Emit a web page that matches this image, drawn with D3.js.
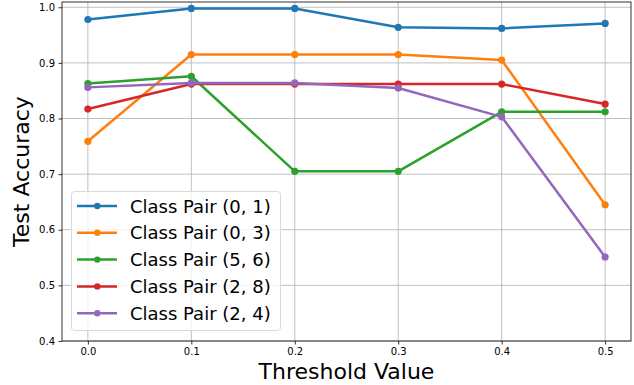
<!DOCTYPE html>
<html><head><meta charset="utf-8">
<script src="https://cdn.jsdelivr.net/npm/d3@7"></script>
<style>body{margin:0;background:#fff}svg{display:block;font-family:"DejaVu Sans",sans-serif}</style>
</head><body><svg id="c" width="634" height="385"></svg>
<script>
const thresholds = [0.0, 0.1, 0.2, 0.3, 0.4, 0.5];
const seriesNames = ["Class Pair (0, 1)", "Class Pair (0, 3)", "Class Pair (5, 6)", "Class Pair (2, 8)", "Class Pair (2, 4)"];
const pair01 = [0.978, 0.998, 0.998, 0.964, 0.962, 0.971];
const pair03 = [0.759, 0.915, 0.915, 0.915, 0.905, 0.645];
const pair56 = [0.863, 0.876, 0.705, 0.705, 0.812, 0.812];
const pair28 = [0.817, 0.862, 0.862, 0.862, 0.862, 0.826];
const pair24 = [0.856, 0.864, 0.864, 0.855, 0.803, 0.551];
const colors = ["#1f77b4", "#ff7f0e", "#2ca02c", "#d62728", "#9467bd"];
const xTicks = [0.0, 0.1, 0.2, 0.3, 0.4, 0.5];
const yTicks = [0.4, 0.5, 0.6, 0.7, 0.8, 0.9, 1.0];
const allSeries = [pair01, pair03, pair56, pair28, pair24];

const svg = d3.select("#c");
const L = 62, R = 631, T = 2, B = 341;
const x = d3.scaleLinear().domain([-0.025, 0.525]).range([L, R]);
const y = d3.scaleLinear().domain([0.4, 1.0095]).range([B, T]);

// grid
const g = svg.append("g");
g.selectAll("line.vx").data(xTicks).join("line")
  .attr("x1", d => x(d)).attr("x2", d => x(d)).attr("y1", T).attr("y2", B)
  .attr("stroke", "#b0b0b0").attr("stroke-width", 0.8);
g.selectAll("line.hy").data(yTicks).join("line")
  .attr("x1", L).attr("x2", R).attr("y1", d => y(d)).attr("y2", d => y(d))
  .attr("stroke", "#b0b0b0").attr("stroke-width", 0.8);

// axes
const xAxis = svg.append("g").attr("transform", `translate(0,${B})`)
  .call(d3.axisBottom(x).tickValues(xTicks).tickFormat(d3.format(".1f")).tickSize(3.5).tickPadding(3.5));
const yAxis = svg.append("g").attr("transform", `translate(${L},0)`)
  .call(d3.axisLeft(y).tickValues(yTicks).tickFormat(d3.format(".1f")).tickSize(3.5).tickPadding(3.5));
[xAxis, yAxis].forEach(a => {
  a.select(".domain").remove();
  a.selectAll("text").attr("font-size", 10).attr("fill", "#000").attr("font-family", "DejaVu Sans");
  a.selectAll("line").attr("stroke", "#000").attr("stroke-width", 0.8);
});

// spines
svg.append("rect").attr("x", L).attr("y", T).attr("width", R - L).attr("height", B - T)
  .attr("fill", "none").attr("stroke", "#000").attr("stroke-width", 0.8);

// lines
const line = d3.line().x((d, i) => x(thresholds[i])).y(d => y(d));
allSeries.forEach((s, k) => {
  svg.append("path").datum(s).attr("d", line).attr("fill", "none")
    .attr("stroke", colors[k]).attr("stroke-width", 2.5).attr("stroke-linejoin", "round");
  svg.selectAll(null).data(s).join("circle")
    .attr("cx", (d, i) => x(thresholds[i])).attr("cy", d => y(d)).attr("r", 3.6)
    .attr("fill", colors[k]);
});

// labels
svg.append("text").attr("x", (L + R) / 2).attr("y", 379).attr("text-anchor", "middle")
  .attr("font-size", 22).text("Threshold Value");
svg.append("text").attr("transform", `translate(29,${(T + B) / 2}) rotate(-90)`).attr("text-anchor", "middle")
  .attr("font-size", 22).text("Test Accuracy");

// legend
const lg = svg.append("g");
lg.append("rect").attr("x", 71.5).attr("y", 191.5).attr("width", 209).attr("height", 139).attr("rx", 3)
  .attr("fill", "#fff").attr("fill-opacity", 0.8).attr("stroke", "#d9d9d9").attr("stroke-width", 1);
seriesNames.forEach((n, k) => {
  const yy = 206 + k * 26.8;
  lg.append("line").attr("x1", 77).attr("x2", 117).attr("y1", yy).attr("y2", yy)
    .attr("stroke", colors[k]).attr("stroke-width", 2.5);
  lg.append("circle").attr("cx", 97.3).attr("cy", yy).attr("r", 3.2).attr("fill", colors[k]);
  lg.append("text").attr("x", 130).attr("y", yy + 6.5).attr("font-size", 18).text(n);
});
</script></body></html>
